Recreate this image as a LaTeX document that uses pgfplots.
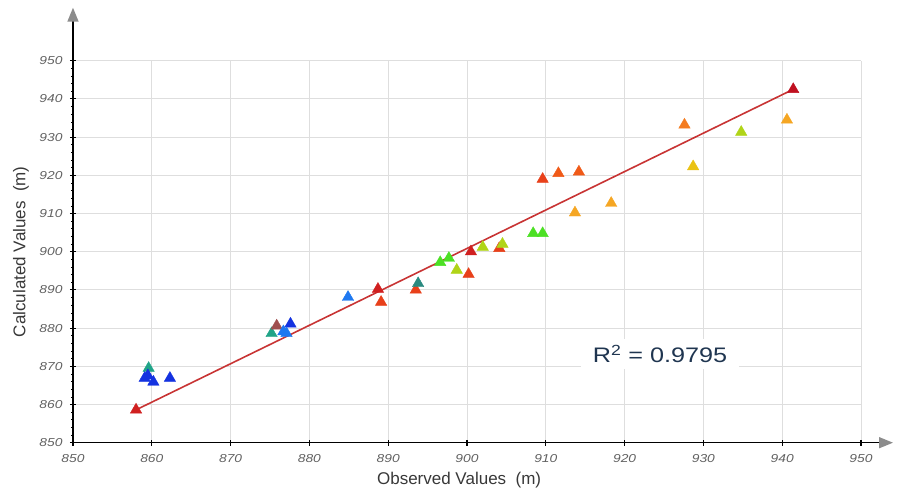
\documentclass[border=0pt]{standalone}
\usepackage{fontspec}
\setmainfont{Liberation Sans}
\usepackage{pgfplots}
\pgfplotsset{compat=1.18}
\usetikzlibrary{arrows.meta}
\definecolor{cRed}{HTML}{D02020}
\definecolor{cDRed}{HTML}{C01020}
\definecolor{cRO}{HTML}{E8401A}
\definecolor{cOR}{HTML}{F05A18}
\definecolor{cOr}{HTML}{F47C20}
\definecolor{cOY}{HTML}{F5A623}
\definecolor{cYe}{HTML}{EAC214}
\definecolor{cYG}{HTML}{B0D418}
\definecolor{cGr}{HTML}{4CE024}
\definecolor{cTe}{HTML}{20A488}
\definecolor{cTB}{HTML}{2A8A80}
\definecolor{cBl}{HTML}{1432E0}
\definecolor{cLB}{HTML}{1E78F0}
\definecolor{cBr}{HTML}{A05050}
\definecolor{cLine}{HTML}{C83434}
\definecolor{cNavy}{HTML}{1F3550}
\pgfplotstableread{
x y c
858.0 858.6 red
859.6 869.5 te
859.5 867.6 bl
859.1 866.9 bl
860.2 865.9 bl
862.3 866.9 bl
875.2 878.6 te
875.85 880.6 br
876.7 879.1 lb
877.6 881.1 bl
877.1 878.6 lb
884.9 888.1 lb
888.7 890.2 red
889.1 886.8 ro
893.5 890.0 ro
893.8 891.7 tb
896.6 897.2 gr
897.7 898.3 gr
898.7 895.2 yg
900.2 894.1 ro
900.5 900.0 red
902.0 901.2 yg
904.1 900.9 ro
904.5 902.0 yg
908.4 904.8 gr
909.6 904.8 gr
909.6 919.0 ro
911.6 920.5 or
914.2 920.9 or
913.7 910.2 oy
918.3 912.7 oy
927.6 933.2 orr
928.7 922.3 ye
934.8 931.3 yg
940.6 934.5 oy
941.4 942.5 dred
}\pts
\begin{document}
\begin{tikzpicture}[x=1pt,y=1pt]
\useasboundingbox (-73,-50.3) rectangle (825,442.7);
\begin{axis}[
  at={(0pt,0pt)}, anchor=south west,
  scale only axis, width=788pt, height=382pt,
  xmin=850, xmax=950, ymin=850, ymax=950,
  xtick={850,860,...,950}, ytick={850,860,...,950},
  minor y tick num=4,
  axis lines*=left,
  axis line style={line width=1.6pt, black},
  tick align=center,
  major tick length=6pt, minor tick length=3pt,
  every tick/.style={black, line width=1.1pt},
  minor tick style={black, line width=0.6pt},
  grid=major,
  major grid style={line width=1pt, color=black!13},
  tick label style={font=\fontsize{11.5}{13}\selectfont\itshape, text=black!62},
  xticklabel={\scalebox{1.2}[1]{\pgfmathprintnumber{\tick}}},
  yticklabel={\scalebox{1.2}[1]{\pgfmathprintnumber{\tick}}},
  /pgf/number format/assume math mode=true,
  /pgf/number format/set thousands separator={},
  xticklabel style={yshift=-5pt},
  yticklabel style={xshift=-4pt},
  every axis x label/.style={at={(axis description cs:0.49,-0.098)}, anchor=center, font=\fontsize{17}{20}\selectfont, text=black!78},
  every axis y label/.style={at={(axis description cs:-0.066,0.5)}, anchor=center, rotate=90, font=\fontsize{17}{20}\selectfont, text=black!78},
  xlabel={Observed Values\ \ (m)},
  ylabel={Calculated Values\ \ (m)},
  clip=false,
]
\draw[line width=1.6pt, -{Triangle[length=14pt, width=11pt, color=black!45]}] (rel axis cs:0,0) -- ([xshift=32pt]rel axis cs:1,0);
\draw[line width=1.6pt, -{Triangle[length=14pt, width=11pt, color=black!45]}] (rel axis cs:0,0) -- ([yshift=53pt]rel axis cs:0,1);
\addplot[cLine, line width=1.6pt] coordinates {(858.0,858.6) (941.4,942.5)};
\addplot[scatter, only marks, mark=triangle*, mark size=6.6pt,
  scatter src=explicit symbolic,
  scatter/classes={
    red={mark=triangle*, draw=cRed, fill=cRed},
    dred={mark=triangle*, draw=cDRed, fill=cDRed},
    ro={mark=triangle*, draw=cRO, fill=cRO},
    or={mark=triangle*, draw=cOR, fill=cOR},
    orr={mark=triangle*, draw=cOr, fill=cOr},
    oy={mark=triangle*, draw=cOY, fill=cOY},
    ye={mark=triangle*, draw=cYe, fill=cYe},
    yg={mark=triangle*, draw=cYG, fill=cYG},
    gr={mark=triangle*, draw=cGr, fill=cGr},
    te={mark=triangle*, draw=cTe, fill=cTe},
    tb={mark=triangle*, draw=cTB, fill=cTB},
    bl={mark=triangle*, draw=cBl, fill=cBl},
    lb={mark=triangle*, draw=cLB, fill=cLB},
    br={mark=triangle*, draw=cBr, fill=cBr}}]
  table[x=x, y=y, meta=c] {\pts};
\node[fill=white, text=cNavy, inner xsep=12pt, inner ysep=6pt] at (axis cs:924.5,873.2) {\scalebox{1.2}[1]{\fontsize{21}{24}\selectfont R\textsuperscript{2} = 0.9795}};
\end{axis}
\end{tikzpicture}
\end{document}
